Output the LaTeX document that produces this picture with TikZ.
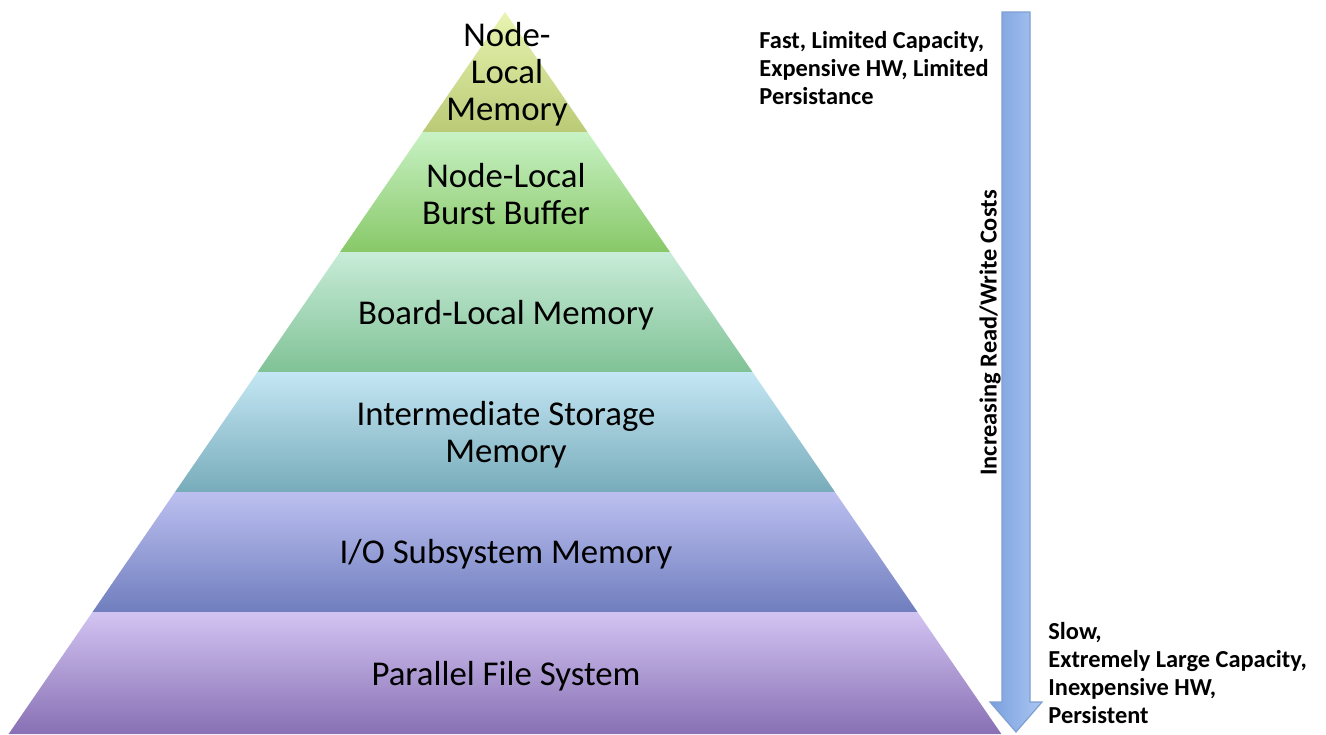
\documentclass[tikz,border=0pt]{standalone}
\usepackage{fontspec}
\setmainfont{Carlito}
\begin{document}
\begin{tikzpicture}[x=0.5pt,y=-0.5pt,
  lvl/.style={font=\fontsize{17.4}{18.5}\selectfont, align=center, text=black, inner sep=0pt},
  note/.style={font=\fontsize{12.2}{14}\selectfont\bfseries, align=left, anchor=north west, inner sep=0pt}]
\useasboundingbox (0,0) rectangle (1326,734);
% pyramid bands
\shade[top color={rgb,255:red,232;green,244;blue,176}, bottom color={rgb,255:red,186;green,202;blue,118}]
  (505,12) -- (587.5,132) -- (422.5,132) -- cycle;
\shade[top color={rgb,255:red,200;green,242;blue,196}, bottom color={rgb,255:red,136;green,200;blue,104}]
  (422.5,132) -- (587.5,132) -- (670,252) -- (340,252) -- cycle;
\shade[top color={rgb,255:red,200;green,236;blue,216}, bottom color={rgb,255:red,128;green,194;blue,150}]
  (340,252) -- (670,252) -- (752.5,372) -- (257.5,372) -- cycle;
\shade[top color={rgb,255:red,196;green,230;blue,244}, bottom color={rgb,255:red,120;green,172;blue,186}]
  (257.5,372) -- (752.5,372) -- (835,492) -- (175,492) -- cycle;
\shade[top color={rgb,255:red,188;green,192;blue,240}, bottom color={rgb,255:red,112;green,126;blue,190}]
  (175,492) -- (835,492) -- (917.5,612) -- (92.5,612) -- cycle;
\shade[top color={rgb,255:red,210;green,196;blue,242}, bottom color={rgb,255:red,136;green,112;blue,180}]
  (92.5,612) -- (917.5,612) -- (1001.4,734) -- (8.6,734) -- cycle;
% labels
\node[lvl] (l1) at (507,74) {Node-\\Local\\Memory};
\node[lvl] (l2) at (506,194) {Node-Local\\Burst Buffer};
\node[lvl] (l3) at (506,315) {Board-Local Memory};
\node[lvl] (l4) at (506,435) {Intermediate Storage\\Memory};
\node[lvl] (l5) at (506,554) {I/O Subsystem Memory};
\node[lvl] (l6) at (506,676) {Parallel File System};
% arrow
\shade[left color={rgb,255:red,122;green,160;blue,222}, right color={rgb,255:red,170;green,198;blue,242},
  draw={rgb,255:red,128;green,160;blue,210}, line width=0.6pt]
  (1002,12) -- (1030,12) -- (1030,702) -- (1042,702) -- (1016,732) -- (990,702) -- (1002,702) -- cycle;
\node[font=\fontsize{12.2}{14}\selectfont\bfseries, rotate=90, inner sep=0pt] (cost) at (990,333) {Increasing Read/Write Costs};
% notes
\node[note] (top) at (759,31) {Fast, Limited Capacity,\\Expensive HW, Limited\\Persistance};
\node[note] (bot) at (1048,622) {Slow,\\Extremely Large Capacity,\\Inexpensive HW,\\Persistent};
\end{tikzpicture}
\end{document}
